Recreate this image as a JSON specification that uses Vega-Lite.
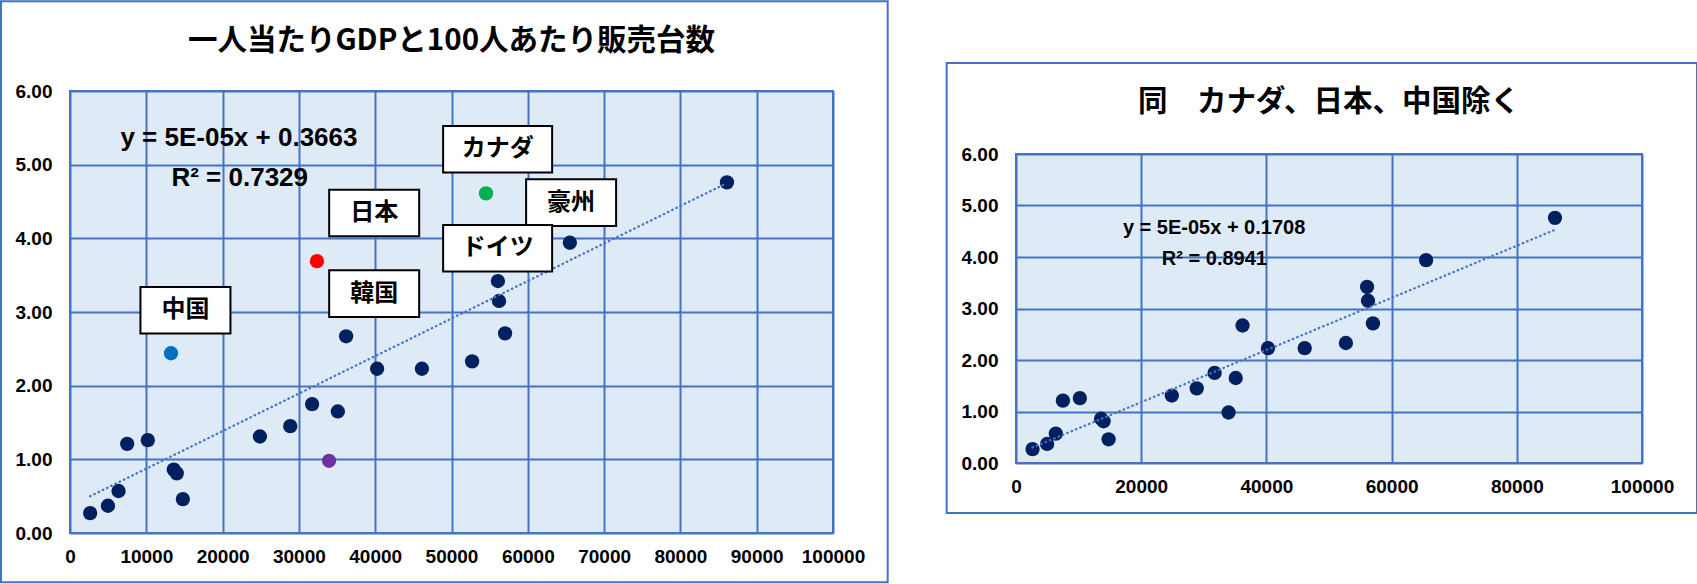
{
  "$schema": "https://vega.github.io/schema/vega-lite/v6.json",
  "padding": {"left": -1, "top": -2, "right": 0, "bottom": 0},
  "background": "white",
  "columns": 2,
  "spacing": 54,
  "datasets": {
    "pts": [
      {"gdp": 2640, "per100": 0.27, "cat": "other"},
      {"gdp": 4970, "per100": 0.37, "cat": "other"},
      {"gdp": 6360, "per100": 0.57, "cat": "other"},
      {"gdp": 7490, "per100": 1.21, "cat": "other"},
      {"gdp": 10200, "per100": 1.26, "cat": "other"},
      {"gdp": 13600, "per100": 0.86, "cat": "other"},
      {"gdp": 13990, "per100": 0.81, "cat": "other"},
      {"gdp": 14790, "per100": 0.46, "cat": "other"},
      {"gdp": 13240, "per100": 2.44, "cat": "中国"},
      {"gdp": 24890, "per100": 1.31, "cat": "other"},
      {"gdp": 28870, "per100": 1.45, "cat": "other"},
      {"gdp": 31730, "per100": 1.75, "cat": "other"},
      {"gdp": 35100, "per100": 1.65, "cat": "other"},
      {"gdp": 33950, "per100": 0.98, "cat": "other2"},
      {"gdp": 32370, "per100": 3.69, "cat": "日本"},
      {"gdp": 36190, "per100": 2.67, "cat": "other"},
      {"gdp": 40250, "per100": 2.23, "cat": "other"},
      {"gdp": 46120, "per100": 2.23, "cat": "other"},
      {"gdp": 52700, "per100": 2.33, "cat": "other"},
      {"gdp": 54520, "per100": 4.61, "cat": "カナダ"},
      {"gdp": 56080, "per100": 3.42, "cat": "other"},
      {"gdp": 56230, "per100": 3.15, "cat": "other"},
      {"gdp": 57020, "per100": 2.71, "cat": "other"},
      {"gdp": 65510, "per100": 3.94, "cat": "other"},
      {"gdp": 86100, "per100": 4.76, "cat": "other"}
    ],
    "labels": [
      {"label": "中国", "gdp": 15131, "per100": 3.023},
      {"label": "日本", "gdp": 39866, "per100": 4.344},
      {"label": "韓国", "gdp": 39866, "per100": 3.25},
      {"label": "カナダ", "gdp": 56046, "per100": 5.209},
      {"label": "豪州", "gdp": 65676, "per100": 4.485},
      {"label": "ドイツ", "gdp": 56046, "per100": 3.865}
    ],
    "eqL": [
      {"t": "y = 5E-05x + 0.3663", "gdp": 22141, "per100": 5.367},
      {"t": "R² = 0.7329", "gdp": 22246, "per100": 4.824}
    ],
    "eqR": [
      {"t": "y = 5E-05x + 0.1708", "gdp": 31645, "per100": 4.567},
      {"t": "R² = 0.8941", "gdp": 31693, "per100": 3.953}
    ]
  },
  "config": {
    "view": {"fill": "#DEEBF7", "stroke": "#4472C4", "strokeWidth": 2},
    "axis": {
      "grid": true, "gridColor": "#4472C4", "gridWidth": 2, "gridOpacity": 1,
      "domain": false, "ticks": false,
      "labelFont": "Liberation Sans", "labelFontSize": 19, "labelFontWeight": "bold",
      "labelColor": "#000000", "labelFlush": false, "labelOverlap": false
    },
    "axisX": {"labelPadding": 14},
    "axisY": {"labelPadding": 18},
    "title": {"font": "Noto Sans CJK JP", "fontSize": 29.5, "fontWeight": "bold", "color": "#000000", "anchor": "middle"}
  },
  "concat": [
    {
      "spacing": 0,
      "vconcat": [
        {
          "width": 10,
          "height": 1,
          "data": {"values": [{}]},
          "mark": {"type": "point", "opacity": 0, "size": 0},
          "view": {"fill": null, "stroke": null}
        },
        {
          "width": 763,
          "height": 442,
          "title": {"text": "一人当たりGDPと100人あたり販売台数", "offset": -56},
          "layer": [
            {
              "data": {"values": [{}]},
              "mark": {"type": "rect", "fillOpacity": 0, "stroke": "#4472C4", "strokeWidth": 2},
              "encoding": {
                "x": {"datum": -9040, "type": "quantitative", "scale": {"domain": [0, 100000], "nice": false, "zero": false}},
                "x2": {"datum": 107166},
                "y": {"datum": 7.2176, "type": "quantitative", "scale": {"domain": [0, 6], "nice": false, "zero": false}},
                "y2": {"datum": -0.6692}
              }
            },
            {
              "data": {"name": "pts"},
              "mark": {"type": "circle", "size": 205, "opacity": 1},
              "encoding": {
                "x": {"field": "gdp", "type": "quantitative", "scale": {"domain": [0, 100000], "nice": false, "zero": false},
                      "axis": {"title": null, "values": [0, 10000, 20000, 30000, 40000, 50000, 60000, 70000, 80000, 90000, 100000], "format": "d"}},
                "y": {"field": "per100", "type": "quantitative", "scale": {"domain": [0, 6], "nice": false, "zero": false},
                      "axis": {"title": null, "values": [0, 1, 2, 3, 4, 5, 6], "format": ".2f"}},
                "color": {"field": "cat", "type": "nominal", "legend": null,
                          "scale": {"domain": ["other", "中国", "日本", "カナダ", "other2"], "range": ["#002060", "#0070C0", "#FF0000", "#00B050", "#7030A0"]}}
              }
            },
            {
              "data": {"name": "pts"},
              "transform": [{"regression": "per100", "on": "gdp", "method": "linear", "extent": [2640, 86100]}],
              "mark": {"type": "line", "color": "#4472C4", "strokeWidth": 2.3, "strokeDash": [0.5, 4.2], "strokeCap": "round"},
              "encoding": {
                "x": {"field": "gdp", "type": "quantitative", "scale": {"domain": [0, 100000], "nice": false, "zero": false}},
                "y": {"field": "per100", "type": "quantitative", "scale": {"domain": [0, 6], "nice": false, "zero": false}}
              }
            },
            {
              "data": {"name": "labels"},
              "transform": [{"filter": "length(datum.label) == 2"}],
              "mark": {"type": "point", "shape": "M-1,-0.518H1V0.518H-1Z", "size": 8100, "filled": true, "fill": "#FFFFFF", "stroke": "#000000", "strokeWidth": 2, "opacity": 1},
              "encoding": {
                "x": {"field": "gdp", "type": "quantitative", "scale": {"domain": [0, 100000], "nice": false, "zero": false}},
                "y": {"field": "per100", "type": "quantitative", "scale": {"domain": [0, 6], "nice": false, "zero": false}}
              }
            },
            {
              "data": {"name": "labels"},
              "transform": [{"filter": "length(datum.label) == 3"}],
              "mark": {"type": "point", "shape": "M-1,-0.428H1V0.428H-1Z", "size": 11881, "filled": true, "fill": "#FFFFFF", "stroke": "#000000", "strokeWidth": 2, "opacity": 1},
              "encoding": {
                "x": {"field": "gdp", "type": "quantitative", "scale": {"domain": [0, 100000], "nice": false, "zero": false}},
                "y": {"field": "per100", "type": "quantitative", "scale": {"domain": [0, 6], "nice": false, "zero": false}}
              }
            },
            {
              "data": {"name": "labels"},
              "mark": {"type": "text", "font": "Noto Sans CJK JP", "fontSize": 24, "fontWeight": "bold", "color": "#000000", "align": "center", "baseline": "middle"},
              "encoding": {
                "x": {"field": "gdp", "type": "quantitative", "scale": {"domain": [0, 100000], "nice": false, "zero": false}},
                "y": {"field": "per100", "type": "quantitative", "scale": {"domain": [0, 6], "nice": false, "zero": false}},
                "text": {"field": "label"}
              }
            },
            {
              "data": {"name": "eqL"},
              "mark": {"type": "text", "font": "Liberation Sans", "fontSize": 26, "fontWeight": "bold", "color": "#000000", "align": "center", "baseline": "middle"},
              "encoding": {
                "x": {"field": "gdp", "type": "quantitative", "scale": {"domain": [0, 100000], "nice": false, "zero": false}},
                "y": {"field": "per100", "type": "quantitative", "scale": {"domain": [0, 6], "nice": false, "zero": false}},
                "text": {"field": "t"}
              }
            }
          ]
        }
      ]
    },
    {
      "spacing": 0,
      "vconcat": [
        {
          "width": 10,
          "height": 62,
          "data": {"values": [{}]},
          "mark": {"type": "point", "opacity": 0, "size": 0},
          "view": {"fill": null, "stroke": null}
        },
        {
          "width": 626,
          "height": 309,
          "title": {"text": "同　カナダ、日本、中国除く", "offset": -56},
          "layer": [
            {
              "data": {"values": [{}]},
              "mark": {"type": "rect", "fillOpacity": 0, "stroke": "#4472C4", "strokeWidth": 2},
              "encoding": {
                "x": {"datum": -11076, "type": "quantitative", "scale": {"domain": [0, 100000], "nice": false, "zero": false}},
                "x2": {"datum": 108790},
                "y": {"datum": 7.7687, "type": "quantitative", "scale": {"domain": [0, 6], "nice": false, "zero": false}},
                "y2": {"datum": -0.9718}
              }
            },
            {
              "data": {"name": "pts"},
              "transform": [{"filter": "datum.cat != '中国' && datum.cat != '日本' && datum.cat != 'カナダ'"}],
              "mark": {"type": "circle", "size": 205, "opacity": 1, "color": "#002060"},
              "encoding": {
                "x": {"field": "gdp", "type": "quantitative", "scale": {"domain": [0, 100000], "nice": false, "zero": false},
                      "axis": {"title": null, "values": [0, 20000, 40000, 60000, 80000, 100000], "format": "d"}},
                "y": {"field": "per100", "type": "quantitative", "scale": {"domain": [0, 6], "nice": false, "zero": false},
                      "axis": {"title": null, "values": [0, 1, 2, 3, 4, 5, 6], "format": ".2f"}}
              }
            },
            {
              "data": {"name": "pts"},
              "transform": [
                {"filter": "datum.cat != '中国' && datum.cat != '日本' && datum.cat != 'カナダ'"},
                {"regression": "per100", "on": "gdp", "method": "linear", "extent": [2640, 86100]}
              ],
              "mark": {"type": "line", "color": "#4472C4", "strokeWidth": 2.3, "strokeDash": [0.5, 4.2], "strokeCap": "round"},
              "encoding": {
                "x": {"field": "gdp", "type": "quantitative", "scale": {"domain": [0, 100000], "nice": false, "zero": false}},
                "y": {"field": "per100", "type": "quantitative", "scale": {"domain": [0, 6], "nice": false, "zero": false}}
              }
            },
            {
              "data": {"name": "eqR"},
              "mark": {"type": "text", "font": "Liberation Sans", "fontSize": 20, "fontWeight": "bold", "color": "#000000", "align": "center", "baseline": "middle"},
              "encoding": {
                "x": {"field": "gdp", "type": "quantitative", "scale": {"domain": [0, 100000], "nice": false, "zero": false}},
                "y": {"field": "per100", "type": "quantitative", "scale": {"domain": [0, 6], "nice": false, "zero": false}},
                "text": {"field": "t"}
              }
            }
          ]
        }
      ]
    }
  ]
}
